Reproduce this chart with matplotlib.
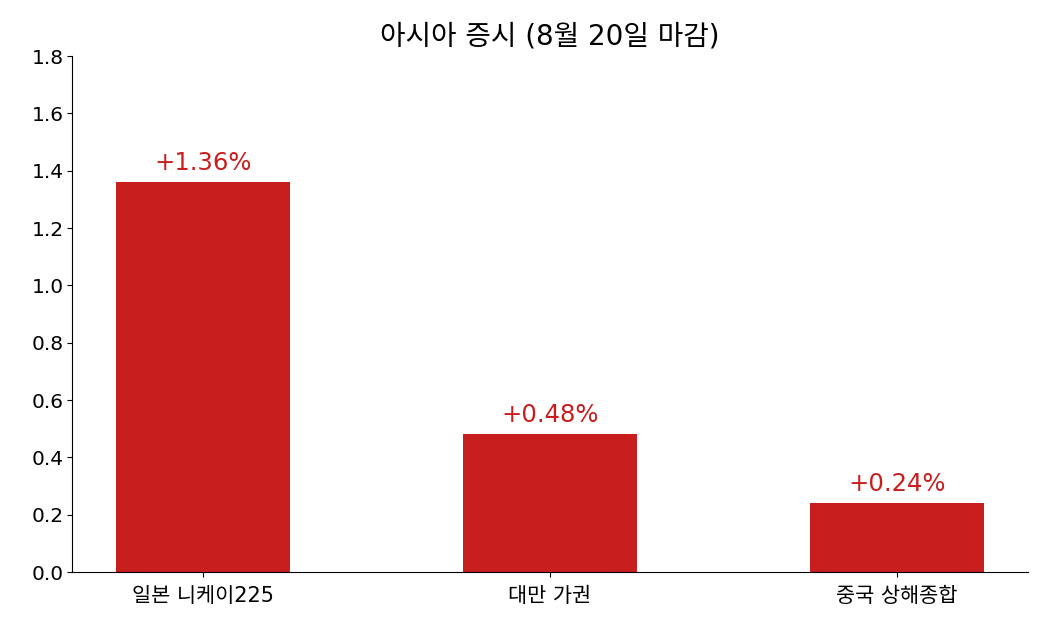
import matplotlib
matplotlib.use('Agg')
import matplotlib.pyplot as plt
import numpy as np

plt.rcParams['font.family'] = ['DejaVu Sans', 'Noto Sans CJK KR']

markets = ['일본 니케이225', '대만 가권', '중국 상해종합']
changes = [1.36, 0.48, 0.24]
labels = ['+1.36%', '+0.48%', '+0.24%']
bar_color = '#C81E1E'

fig, ax = plt.subplots(figsize=(10.5, 6.3), dpi=100)
x = np.arange(len(markets))
bars = ax.bar(x, changes, width=0.5, color=bar_color)

for b, lab in zip(bars, labels):
    ax.text(b.get_x() + b.get_width() / 2, b.get_height() + 0.025, lab,
            ha='center', va='bottom', color=bar_color, fontsize=17.5)

ax.set_xticks(x)
ax.set_xticklabels(markets, fontsize=15)
ax.set_xlim(-0.377, 2.377)
ax.set_ylim(0, 1.8)
ax.set_yticks(np.arange(0, 1.81, 0.2))
ax.set_yticklabels([f'{v:.1f}' for v in np.arange(0, 1.81, 0.2)], fontsize=14.5)
ax.tick_params(axis='x', pad=6.5)
ax.tick_params(axis='y', pad=2.5)
ax.set_title('아시아 증시 (8월 20일 마감)', fontsize=20, pad=8)
ax.spines['top'].set_visible(False)
ax.spines['right'].set_visible(False)

plt.subplots_adjust(left=0.0686, right=0.979, top=0.911, bottom=0.092)
plt.savefig('out.png')
